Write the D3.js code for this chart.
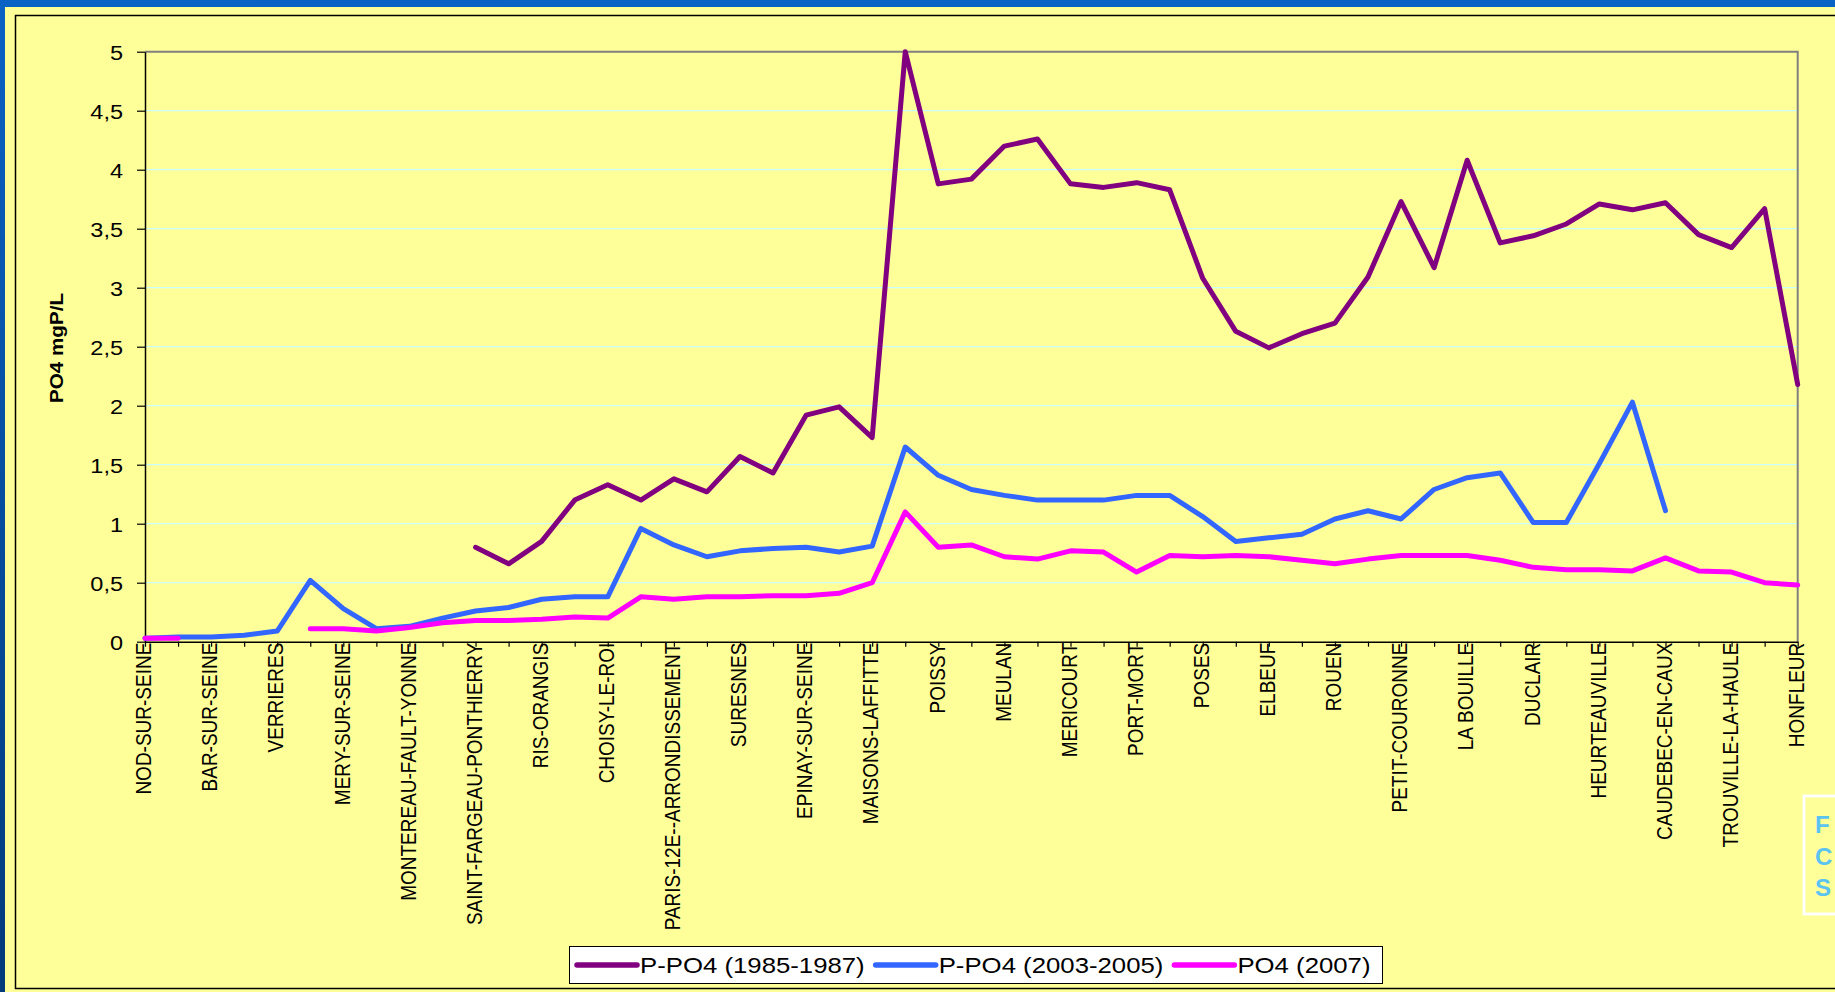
<!DOCTYPE html>
<html>
<head>
<meta charset="utf-8">
<script src="https://cdn.jsdelivr.net/npm/d3@7"></script>
<style>
  html, body { margin: 0; padding: 0; background: #0a5fc0; overflow: hidden; }
  svg { display: block; }
  text { font-family: "Liberation Sans", Arial, sans-serif; }
</style>
</head>
<body>
<svg id="chart" width="1835" height="992"></svg>
<script>
// ---------- DATA ----------
// Stations labelled on the axis (every other category is unlabelled in the original)
const stations = [
  "NOD-SUR-SEINE", "BAR-SUR-SEINE", "VERRIERES", "MERY-SUR-SEINE",
  "MONTEREAU-FAULT-YONNE", "SAINT-FARGEAU-PONTHIERRY", "RIS-ORANGIS",
  "CHOISY-LE-ROI", "PARIS-12E--ARRONDISSEMENT", "SURESNES", "EPINAY-SUR-SEINE",
  "MAISONS-LAFFITTE", "POISSY", "MEULAN", "MERICOURT", "PORT-MORT", "POSES",
  "ELBEUF", "ROUEN", "PETIT-COURONNE", "LA BOUILLE", "DUCLAIR", "HEURTEAUVILLE",
  "CAUDEBEC-EN-CAUX", "TROUVILLE-LA-HAULE", "HONFLEUR"
];
// 51 categories along the Seine; odd ones carry no visible label
const categories = d3.range(51).map(i => (i % 2 === 0 ? stations[i / 2] : ""));

const seriesNames = ["P-PO4 (1985-1987)", "P-PO4 (2003-2005)", "PO4 (2007)"];

const ppo4_1985 = [
  null, null, null, null, null, null, null, null, null, null,
  0.80, 0.66, 0.85, 1.20, 1.33, 1.20, 1.38, 1.27, 1.57, 1.43,
  1.92, 1.99, 1.73, 5.00, 3.88, 3.92, 4.20, 4.26, 3.88, 3.85,
  3.89, 3.83, 3.08, 2.63, 2.49, 2.61, 2.70, 3.09, 3.73, 3.17,
  4.08, 3.38, 3.44, 3.54, 3.71, 3.66, 3.72, 3.45, 3.34, 3.67,
  2.18
];
const ppo4_2003 = [
  0.03, 0.04, 0.04, 0.055, 0.09, 0.52, 0.28, 0.11, 0.13, 0.20,
  0.26, 0.29, 0.36, 0.38, 0.38, 0.96, 0.82, 0.72, 0.77, 0.79,
  0.80, 0.76, 0.81, 1.65, 1.41, 1.29, 1.24, 1.20, 1.20, 1.20,
  1.24, 1.24, 1.06, 0.85, 0.88, 0.91, 1.04, 1.11, 1.04, 1.29,
  1.39, 1.43, 1.01, 1.01, 1.51, 2.03, 1.11, null, null, null,
  null
];
const po4_2007 = [
  0.03, 0.03, null, null, null, 0.11, 0.11, 0.09, 0.12, 0.16,
  0.18, 0.18, 0.19, 0.21, 0.20, 0.38, 0.36, 0.38, 0.38, 0.39,
  0.39, 0.41, 0.50, 1.10, 0.80, 0.82, 0.72, 0.70, 0.77, 0.76,
  0.59, 0.73, 0.72, 0.73, 0.72, 0.69, 0.66, 0.70, 0.73, 0.73,
  0.73, 0.69, 0.63, 0.61, 0.61, 0.60, 0.71, 0.60, 0.59, 0.50,
  0.48
];
const yTickValues = [0, 0.5, 1, 1.5, 2, 2.5, 3, 3.5, 4, 4.5, 5];
const yTickLabels = ["0", "0,5", "1", "1,5", "2", "2,5", "3", "3,5", "4", "4,5", "5"];
const yTitle = "PO4 mgP/L";
const sideBoxLetters = ["F", "C", "S"];

// ---------- STYLE ----------
const colors = ["#800080", "#3366FF", "#FF00FF"];
const W = 1835, H = 992;
const plot = { left: 145, right: 1797.7, top: 51.7, bottom: 641.7 };
const stretch = 1.12;

const svg = d3.select("#chart");

// background / frame
const defs = svg.append("defs");
const grad = defs.append("linearGradient").attr("id", "bg").attr("x1", 0).attr("y1", 0).attr("x2", 0).attr("y2", 1);
grad.append("stop").attr("offset", "0%").attr("stop-color", "#0a62c4");
grad.append("stop").attr("offset", "100%").attr("stop-color", "#023a7a");
svg.append("rect").attr("width", W).attr("height", H).attr("fill", "url(#bg)");
svg.append("rect").attr("x", 5).attr("y", 7).attr("width", W).attr("height", H).attr("fill", "#FFFF99");
svg.append("rect").attr("x", 15.5).attr("y", 15.5).attr("width", W + 20).attr("height", 973)
  .attr("fill", "none").attr("stroke", "#000").attr("stroke-width", 1.5);

// scales
const x = d3.scalePoint().domain(d3.range(categories.length)).range([plot.left, plot.right]);
const y = d3.scaleLinear().domain([0, 5]).range([plot.bottom, plot.top]);

// gridlines
svg.append("g").selectAll("line")
  .data(yTickValues.filter(v => v > 0 && v < 5))
  .join("line")
  .attr("x1", plot.left).attr("x2", plot.right)
  .attr("y1", d => y(d)).attr("y2", d => y(d))
  .attr("stroke", "#CCFFFF").attr("stroke-width", 1.2);

// plot border top/right (gray)
svg.append("path")
  .attr("d", `M${plot.left},${y(5)}H${plot.right}V${y(0)}`)
  .attr("fill", "none").attr("stroke", "#808080").attr("stroke-width", 2);

// Y axis
const yAxis = svg.append("g").attr("transform", `translate(${plot.left},0)`)
  .call(d3.axisLeft(y).tickValues(yTickValues).tickSize(8).tickSizeOuter(0)
    .tickFormat((d, i) => yTickLabels[i]));
yAxis.select(".domain").attr("stroke", "#000").attr("stroke-width", 1.5);
yAxis.selectAll(".tick line").attr("stroke", "#000").attr("stroke-width", 1.2);
yAxis.selectAll(".tick text")
  .attr("x", 0).attr("dy", "0.36em")
  .attr("transform", `translate(-22,0) scale(${stretch},1)`)
  .attr("font-size", 21).attr("fill", "#000")
  .attr("font-family", "Liberation Sans, Arial, sans-serif");

// X axis
const xAxis = svg.append("g").attr("transform", `translate(0,${plot.bottom})`)
  .call(d3.axisBottom(x).tickSize(5).tickSizeOuter(0).tickFormat(i => categories[i]));
xAxis.select(".domain").attr("stroke", "#000").attr("stroke-width", 1.5);
xAxis.selectAll(".tick line").attr("stroke", "#000").attr("stroke-width", 1.2);
xAxis.selectAll(".tick text")
  .attr("x", 0).attr("y", 0).attr("dy", "0.27em")
  .attr("text-anchor", "end")
  .attr("transform", `translate(0,1) scale(${stretch},1) rotate(-90)`)
  .attr("font-size", 19).attr("fill", "#000")
  .attr("font-family", "Liberation Sans, Arial, sans-serif");

// Y title
svg.append("text")
  .attr("transform", `translate(63,348) rotate(-90)`)
  .attr("text-anchor", "middle")
  .attr("font-size", 19).attr("font-weight", "bold")
  .attr("textLength", 110).attr("lengthAdjust", "spacingAndGlyphs")
  .text(yTitle);

// lines
const series = [ppo4_1985, ppo4_2003, po4_2007];
const line = d3.line()
  .defined(d => d != null)
  .x((d, i) => x(i))
  .y(d => y(d));
svg.append("g").selectAll("path")
  .data(series)
  .join("path")
  .attr("d", d => line(d))
  .attr("fill", "none")
  .attr("stroke", (d, i) => colors[i])
  .attr("stroke-width", 5)
  .attr("stroke-linejoin", "round")
  .attr("stroke-linecap", "round");

// legend
const leg = svg.append("g");
const legBox = leg.append("rect").attr("fill", "#fff").attr("stroke", "#000").attr("stroke-width", 1);
let cx = 577;
const ly = 965;
seriesNames.forEach((name, i) => {
  leg.append("line").attr("x1", cx).attr("x2", cx + 60).attr("y1", ly).attr("y2", ly)
    .attr("stroke", colors[i]).attr("stroke-width", 5.5).attr("stroke-linecap", "round");
  const t = leg.append("text")
    .attr("transform", `translate(${cx + 63},${ly + 8}) scale(${stretch},1)`)
    .attr("font-size", 23).attr("fill", "#000").text(name);
  const w = t.node().getComputedTextLength() * stretch;
  cx = cx + 63 + w + 11;
});
legBox.attr("x", 569.5).attr("y", 946.5).attr("width", cx - 11 + 12 - 569.5).attr("height", 37);

// partially visible side box on the right
svg.append("rect").attr("x", 1804).attr("y", 796).attr("width", 80).attr("height", 118)
  .attr("fill", "none").attr("stroke", "#fff").attr("stroke-width", 3);
sideBoxLetters.forEach((s, i) => {
  svg.append("text").attr("x", 1815).attr("y", 833 + i * 31.5)
    .attr("font-size", 24).attr("font-weight", "bold").attr("fill", "#5BC3F0")
    .attr("font-family", "Liberation Sans, Arial, sans-serif")
    .text(s);
});
</script>
</body>
</html>
